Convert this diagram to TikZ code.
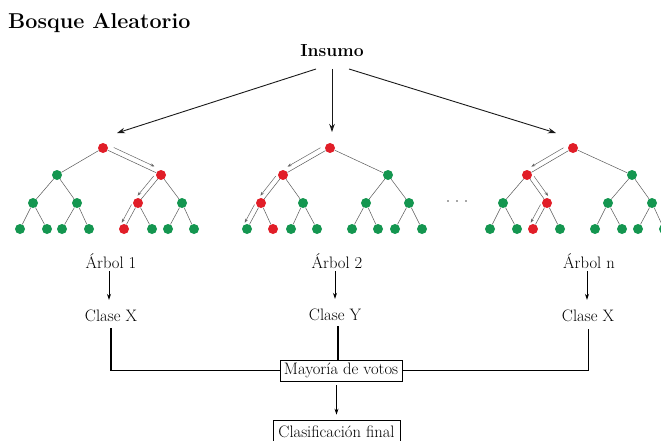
\documentclass[tikz,border=0pt]{standalone}
\usepackage{fontspec}
\usetikzlibrary{calc,arrows.meta}
\definecolor{nodered}{RGB}{225,30,40}
\definecolor{nodegreen}{RGB}{20,150,80}
\newcommand{\garr}[3]{\draw[offarr] ($(#1)!0.15!(#2)!5pt!#3:(#2)$) -- ($(#1)!0.85!(#2)!5pt!#3:(#2)$);}
\begin{document}
\begin{tikzpicture}[x=1pt,y=-1pt,
  rn/.style={circle,fill=nodered,inner sep=0pt,minimum size=10pt},
  gn/.style={circle,fill=nodegreen,inner sep=0pt,minimum size=10pt},
  edge/.style={draw=black!65,line width=0.5pt},
  offarr/.style={draw=black!60,line width=0.5pt,-{Stealth[length=4pt,width=3pt]}},
  bigarr/.style={draw=black!90,line width=0.9pt,-{Stealth[length=8pt,width=5.5pt]}},
  arr/.style={draw=black,line width=0.7pt,-{Stealth[length=6pt,width=4pt]}},
  lbl/.style={inner sep=0pt,text height=11pt,text depth=0pt,anchor=base,font=\fontsize{16.6}{19}\selectfont},
  box/.style={draw,line width=0.7pt,inner sep=0pt,text height=11pt,text depth=3.5pt,font=\fontsize{16.6}{19}\selectfont},
  thickline/.style={line width=1.1pt},
  thinline/.style={line width=0.6pt}]
\useasboundingbox (0,0) rectangle (661,441);
\clip (0,0) rectangle (661,441);
% titles
\node[anchor=base west,inner sep=0pt,font=\bfseries\fontsize{21.5}{24}\selectfont] (title) at (8,29) {Bosque Aleatorio};
\node[anchor=base,inner sep=0pt,font=\bfseries\fontsize{17.5}{20}\selectfont] (ins) at (332,57) {Insumo};
% tree 1
\node[rn] (a) at (103,148) {};
\node[gn] (aL) at (57,175) {};
\node[rn] (aR) at (161,175) {};
\node[gn] (aLL) at (33,203) {};
\node[gn] (aLR) at (77,203) {};
\node[rn] (aRL) at (138,203) {};
\node[gn] (aRR) at (182,203) {};
\node[gn] (aLLL) at (20,229) {};
\node[gn] (aLLR) at (47,229) {};
\node[gn] (aLRL) at (62,229) {};
\node[gn] (aLRR) at (89,229) {};
\node[rn] (aRLL) at (124,229) {};
\node[gn] (aRLR) at (152,229) {};
\node[gn] (aRRL) at (168,229) {};
\node[gn] (aRRR) at (194,229) {};
% tree 2
\node[rn] (b) at (330,148) {};
\node[rn] (bL) at (283,175) {};
\node[gn] (bR) at (388,175) {};
\node[rn] (bLL) at (261,203) {};
\node[gn] (bLR) at (303,203) {};
\node[gn] (bRL) at (366,203) {};
\node[gn] (bRR) at (409,203) {};
\node[gn] (bLLL) at (247,229) {};
\node[rn] (bLLR) at (273,229) {};
\node[gn] (bLRL) at (291,229) {};
\node[gn] (bLRR) at (317,229) {};
\node[gn] (bRLL) at (352,229) {};
\node[gn] (bRLR) at (378,229) {};
\node[gn] (bRRL) at (395,229) {};
\node[gn] (bRRR) at (422,229) {};
% tree n
\node[rn] (c) at (573,148) {};
\node[rn] (cL) at (527,175) {};
\node[gn] (cR) at (632,175) {};
\node[gn] (cLL) at (503,203) {};
\node[rn] (cLR) at (547,203) {};
\node[gn] (cRL) at (608,203) {};
\node[gn] (cRR) at (652,203) {};
\node[gn] (cLLL) at (490,229) {};
\node[gn] (cLLR) at (517,229) {};
\node[rn] (cLRL) at (533,229) {};
\node[gn] (cLRR) at (560,229) {};
\node[gn] (cRLL) at (595,229) {};
\node[gn] (cRLR) at (622,229) {};
\node[gn] (cRRL) at (638,229) {};
\node[gn] (cRRR) at (664,229) {};
% edges
\foreach \t in {a,b,c}{
  \foreach \s in {L,R}{
    \draw[edge] (\t) -- (\t\s);
    \foreach \u in {L,R}{
      \draw[edge] (\t\s) -- (\t\s\u);
      \foreach \v in {L,R}{
        \draw[edge] (\t\s\u) -- (\t\s\u\v);
      }
    }
  }
}
% path arrows
\garr{a}{aR}{90}
\garr{aR}{aRL}{-90}
\garr{aRL}{aRLL}{-90}
\garr{b}{bL}{-90}
\garr{bL}{bLL}{-90}
\garr{bLL}{bLLL}{-90}
\garr{c}{cL}{-90}
\garr{cL}{cLR}{90}
\garr{cLR}{cLRL}{-90}
% dots
\foreach \x in {448,457,466} \fill[black!70] (\x,201) circle (0.8pt);
% Insumo arrows
\coordinate (s1) at (316,69);
\coordinate (s2) at (332,69);
\coordinate (s3) at (349,69);
\coordinate (e1) at (117,133);
\coordinate (e2) at (332,132);
\coordinate (e3) at (556,133);
\draw[bigarr] (s1) -- (e1);
\draw[bigarr] (s2) -- (e2);
\draw[bigarr] (s3) -- (e3);
% labels
\node[lbl] (ar1) at (111,268) {Árbol 1};
\node[lbl] (ar2) at (337,268) {Árbol 2};
\node[lbl] (arn) at (589,268) {Árbol n};
\node[lbl] (cx1) at (111,321) {Clase X};
\node[lbl] (cy) at (335,320) {Clase Y};
\node[lbl] (cxn) at (588,321) {Clase X};
\foreach \p/\q in {ar1/cx1,ar2/cy,arn/cxn}
  \draw[arr,shorten <=3pt,shorten >=10pt] ([xshift=-2pt]\p.south) -- ([xshift=-2pt]\p.south |- \q.north);
% boxes
\node[box,minimum width=122pt,minimum height=21pt] (mv) at (341,370.5) {Mayoría de votos};
\node[box,minimum width=127pt,minimum height=27pt] (cf) at (336.5,433.5) {Clasificación final};
% joining lines
\draw[thickline] ([yshift=-7pt]cx1.south) |- (mv.west);
\draw[thinline] ([yshift=-8pt]cxn.south) |- (mv.east);
\draw[thickline] ([xshift=3pt,yshift=-6pt]cy.south) -- ([xshift=3pt]cy.south |- mv.north);
\draw[arr,shorten <=4pt,shorten >=5pt] (cf.north |- mv.south) -- (cf.north);
\end{tikzpicture}
\end{document}
